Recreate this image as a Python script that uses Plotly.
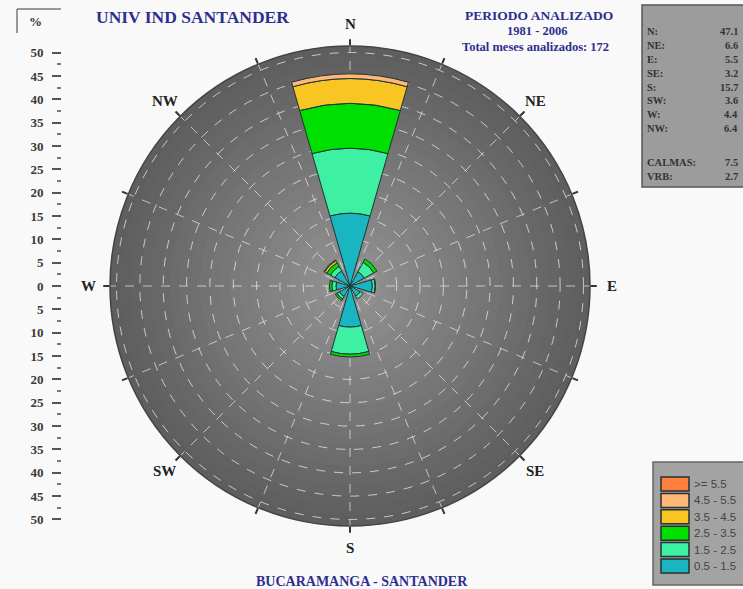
import math
import plotly.graph_objects as go

# ---------------- data ----------------
directions = ["N", "NE", "E", "SE", "S", "SW", "W", "NW"]
dir_angles = [0, 45, 90, 135, 180, 225, 270, 315]
speed_bins = ["0.5 - 1.5", "1.5 - 2.5", "2.5 - 3.5", "3.5 - 4.5", "4.5 - 5.5", ">= 5.5"]
bin_colors = ["#19B6C1", "#3DF0A2", "#00E000", "#F8C522", "#FFB878", "#FF7F3F"]

# frequency (%) per direction for each speed bin (stacked)
freq_05_15 = [15.6, 3.5, 4.8, 2.5, 8.8, 2.6, 3.0, 3.7]
freq_15_25 = [13.9, 2.3, 0.6, 0.7, 5.8, 0.6, 0.9, 1.1]
freq_25_35 = [9.6, 0.8, 0.1, 0.0, 0.6, 0.4, 0.5, 0.9]
freq_35_45 = [5.3, 0.0, 0.0, 0.0, 0.0, 0.0, 0.0, 0.5]
freq_45_55 = [1.0, 0.0, 0.0, 0.0, 0.0, 0.0, 0.0, 0.2]
freq_55_up = [0.0, 0.0, 0.0, 0.0, 0.0, 0.0, 0.0, 0.0]
bin_series = [freq_05_15, freq_15_25, freq_25_35, freq_35_45, freq_45_55, freq_55_up]

summary_labels = ["N:", "NE:", "E:", "SE:", "S:", "SW:", "W:", "NW:", "", "CALMAS:", "VRB:"]
summary_values = ["47.1", "6.6", "5.5", "3.2", "15.7", "3.6", "4.4", "6.4", "", "7.5", "2.7"]

scale_vals = list(range(-50, 55, 5))
scale_text = ["<b>%d</b>" % abs(v) for v in scale_vals]
scale_minor = [v + 2.5 for v in range(-50, 50, 5)]

W, H = 743, 589
SERIF = "Liberation Serif, Times New Roman, serif"
NAVY = "#2E2E8F"

fig = go.Figure()

for name, col, vals in zip(speed_bins, bin_colors, bin_series):
    fig.add_trace(go.Barpolar(
        r=vals, theta=dir_angles, name=name, width=32,
        marker=dict(color=col, line=dict(color="#1E3434", width=1)),
        showlegend=False,
    ))

# invisible trace so the left percentage scale is drawn
fig.add_trace(go.Scatter(x=[0, 0], y=[-50, 50], mode="markers",
                         marker=dict(opacity=0), hoverinfo="skip", showlegend=False))

# polar geometry
cx, cy, R = 350, 286, 240
rmax = 51.4
pxu = 233.3 / 50  # pixels per % on the left scale

fig.update_layout(
    width=W, height=H,
    margin=dict(l=0, r=0, t=0, b=0),
    paper_bgcolor="#F9F9F9",
    plot_bgcolor="rgba(0,0,0,0)",
    barmode="stack",
    polar=dict(
        domain=dict(x=[(cx - R) / W, (cx + R) / W], y=[(H - cy - R) / H, (H - cy + R) / H]),
        bgcolor="rgba(0,0,0,0)",
        hole=0,
        radialaxis=dict(range=[0, rmax], showticklabels=False, ticks="",
                        tickvals=list(range(5, 55, 5)), showline=False,
                        gridcolor="rgba(235,235,235,0.75)", griddash="dash", gridwidth=1),
        angularaxis=dict(rotation=90, direction="clockwise",
                         tickvals=[i * 22.5 for i in range(16)],
                         ticktext=[directions[i // 2] if i % 2 == 0 else "" for i in range(16)],
                         ticks="outside", ticklen=6, tickcolor="#333", tickwidth=1.5,
                         showticklabels=False,
                         linecolor="#444", linewidth=1.5,
                         gridcolor="rgba(235,235,235,0.7)", griddash="dash", gridwidth=1),
    ),
    xaxis=dict(domain=[62 / W, 63 / W], visible=False, range=[-1, 1], fixedrange=True),
    yaxis=dict(domain=[(H - (cy + 55 * pxu)) / H, (H - (cy - 55 * pxu)) / H],
               range=[-55, 55], tickvals=scale_vals, ticktext=scale_text,
               ticks="outside", ticklen=9, tickwidth=1.5, tickcolor="#555",
               ticklabelstandoff=6,
               minor=dict(ticks="outside", ticklen=4, tickcolor="#777",
                          tickvals=scale_minor, showgrid=False),
               showline=False, showgrid=False, zeroline=False,
               tickfont=dict(family=SERIF, size=13, color="#3A3A3A"), fixedrange=True),
)

# radial-gradient background disc (darker rim, lighter centre)
n_rings = 24
for k in range(n_rings):
    rr = R * (1 - k / n_rings)
    t = k / (n_rings - 1)
    g = int(0x5E + (0x94 - 0x5E) * t)
    fig.add_shape(type="circle", xref="paper", yref="paper", layer="below",
                  x0=(cx - rr) / W, x1=(cx + rr) / W,
                  y0=(H - cy - rr) / H, y1=(H - cy + rr) / H,
                  fillcolor="rgb(%d,%d,%d)" % (g, g, g), line=dict(width=0))

# direction labels around the circle
label_r = R + 22
for d, a in zip(directions, dir_angles):
    rad = math.radians(a)
    px = cx + label_r * math.sin(rad)
    py = cy - label_r * math.cos(rad)
    fig.add_annotation(x=px / W, y=(H - py) / H, xref="paper", yref="paper",
                       text="<b>%s</b>" % d, showarrow=False,
                       font=dict(family=SERIF, size=15, color="#222"),
                       xanchor="center", yanchor="middle")

# titles
fig.add_annotation(x=192 / W, y=(H - 17) / H, xref="paper", yref="paper",
                   text="<b>UNIV IND SANTANDER</b>", showarrow=False,
                   font=dict(family=SERIF, size=17.5, color=NAVY), xanchor="center", yanchor="middle")
fig.add_annotation(x=539 / W, y=(H - 15) / H, xref="paper", yref="paper",
                   text="<b>PERIODO ANALIZADO</b>", showarrow=False,
                   font=dict(family=SERIF, size=13.5, color=NAVY), xanchor="center", yanchor="middle")
fig.add_annotation(x=537 / W, y=(H - 31) / H, xref="paper", yref="paper",
                   text="<b>1981 - 2006</b>", showarrow=False,
                   font=dict(family=SERIF, size=12.5, color=NAVY), xanchor="center", yanchor="middle")
fig.add_annotation(x=535 / W, y=(H - 47) / H, xref="paper", yref="paper",
                   text="<b>Total meses analizados: 172</b>", showarrow=False,
                   font=dict(family=SERIF, size=12.5, color=NAVY), xanchor="center", yanchor="middle")
fig.add_annotation(x=362 / W, y=(H - 581) / H, xref="paper", yref="paper",
                   text="<b>BUCARAMANGA - SANTANDER</b>", showarrow=False,
                   font=dict(family=SERIF, size=14, color=NAVY), xanchor="center", yanchor="middle")

# "%" box
fig.add_shape(type="line", xref="paper", yref="paper", x0=17 / W, x1=61 / W,
              y0=(H - 9) / H, y1=(H - 9) / H, line=dict(color="#777", width=1.5))
fig.add_shape(type="line", xref="paper", yref="paper", x0=17 / W, x1=17 / W,
              y0=(H - 9) / H, y1=(H - 33) / H, line=dict(color="#777", width=1.5))
fig.add_annotation(x=35 / W, y=(H - 21) / H, xref="paper", yref="paper", text="<b>%</b>",
                   showarrow=False, font=dict(family=SERIF, size=13, color="#333"),
                   xanchor="center", yanchor="middle")

# summary box
fig.add_shape(type="rect", xref="paper", yref="paper", x0=642 / W, x1=745 / W,
              y0=(H - 5) / H, y1=(H - 187) / H, fillcolor="#9C9C9C",
              line=dict(color="#555", width=1.5), layer="below")
row_y = [32, 46, 60, 74, 88, 101, 115, 129, 143, 162, 177]
for lab, val, yy in zip(summary_labels, summary_values, row_y):
    if lab:
        fig.add_annotation(x=645 / W, y=(H - yy) / H, xref="paper", yref="paper",
                           text="<b>%s</b>" % lab, showarrow=False,
                           font=dict(family=SERIF, size=10.5, color="#333"),
                           xanchor="left", yanchor="middle")
        fig.add_annotation(x=740 / W, y=(H - yy) / H, xref="paper", yref="paper",
                           text="<b>%s</b>" % val, showarrow=False,
                           font=dict(family=SERIF, size=10.5, color="#333"),
                           xanchor="right", yanchor="middle")

# legend box (manual, matches original swatches)
fig.add_shape(type="rect", xref="paper", yref="paper", x0=653 / W, x1=745 / W,
              y0=(H - 462) / H, y1=(H - 585) / H, fillcolor="#A3A3A3",
              line=dict(color="#666", width=1.5), layer="below")
for i, (name, col) in enumerate(zip(reversed(speed_bins), reversed(bin_colors))):
    yc = 484 + i * 16.4
    fig.add_shape(type="rect", xref="paper", yref="paper", x0=661 / W, x1=689 / W,
                  y0=(H - yc + 7) / H, y1=(H - yc - 7) / H, fillcolor=col,
                  line=dict(color="#2A3030", width=1.5))
    fig.add_annotation(x=692 / W, y=(H - yc) / H, xref="paper", yref="paper",
                       text=name, showarrow=False,
                       font=dict(family="Liberation Sans, Arial, sans-serif", size=11.5, color="#444"),
                       xanchor="left", yanchor="middle")

fig.write_html("out.html", config={"displayModeBar": False},
               post_script="document.body.style.margin='0';document.body.style.overflow='hidden';")
